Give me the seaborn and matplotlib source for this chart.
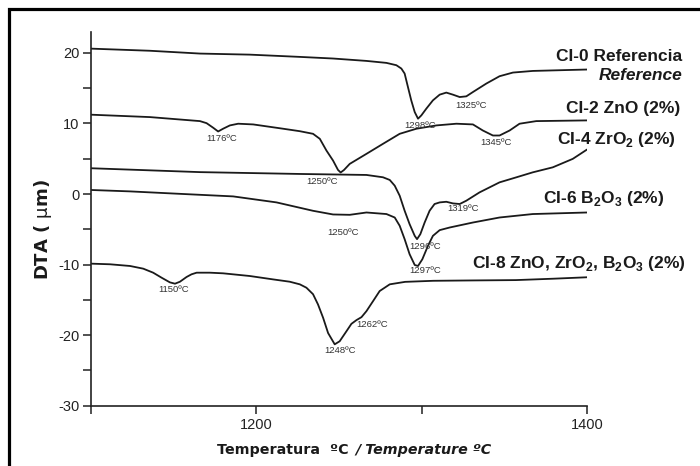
import numpy as np
import pandas as pd
import seaborn as sns
import matplotlib
matplotlib.use("Agg")
import matplotlib.pyplot as plt
from matplotlib.patches import Rectangle

# ---- data ----
t_ci0 = [1100, 1135.6, 1166, 1196, 1226.3, 1246.4, 1266.6, 1278.7, 1284.7, 1287.7, 1289.7, 1291.7, 1293.7,
         1295.8, 1297.8, 1299.8, 1302.8, 1306.8, 1310.9, 1314.9, 1318.9, 1323, 1327, 1331, 1339.1, 1347.1,
         1355.2, 1367.2, 1383.4, 1400]
v_ci0 = [20.6, 20.3, 19.9, 19.75, 19.43, 19.2, 18.86, 18.58, 18.25, 17.78, 17.07, 15.16, 13.27,
         11.61, 10.67, 11.14, 12.09, 13.27, 14.08, 14.37, 14.08, 13.74, 13.84, 14.45, 15.65, 16.69,
         17.21, 17.44, 17.54, 17.64]

t_ci2 = [1100, 1135.6, 1165.9, 1169.9, 1173.9, 1176.9, 1179.9, 1184, 1189, 1198.1, 1216.2, 1226.3, 1234.3,
         1238.4, 1242.4, 1246.4, 1249.4, 1251, 1253, 1256.5, 1266.6, 1276.6, 1286.7, 1296.8, 1308.9, 1321,
         1331, 1337, 1343.1, 1347.1, 1353.2, 1359.2, 1369.3, 1400]
v_ci2 = [11.24, 10.9, 10.33, 10.04, 9.39, 8.86, 9.25, 9.72, 9.96, 9.86, 9.25, 8.9, 8.53,
         7.82, 6.16, 4.74, 3.41, 3.05, 3.4, 4.27, 5.69, 7.11, 8.53, 9.25, 9.72, 9.96,
         9.86, 9.0, 8.29, 8.29, 9.0, 9.96, 10.33, 10.43]

t_ci4 = [1100, 1166, 1226.3, 1266.6, 1276.6, 1280.7, 1283.7, 1286.7, 1289.7, 1292.7, 1295.8, 1297.2, 1299.2,
         1301.8, 1304.8, 1307.8, 1310.9, 1314.9, 1318.9, 1323, 1327, 1335, 1347.1, 1357.2, 1367.2, 1379.3,
         1391.4, 1400]
v_ci4 = [3.65, 3.1, 2.84, 2.7, 2.37, 1.99, 1.18, -0.24, -2.37, -4.27, -5.93, -6.4, -5.69,
         -4.04, -2.37, -1.42, -1.19, -1.1, -1.33, -1.42, -0.95, 0.23, 1.65, 2.36, 3.07, 3.78,
         4.98, 6.3]

t_ci6 = [1100, 1123.6, 1155.8, 1186, 1212.2, 1234.3, 1246.4, 1256.5, 1266.6, 1278.7, 1283.7, 1286.7, 1289.7,
         1292.7, 1295.8, 1297.8, 1300.4, 1303.8, 1306.8, 1310.9, 1316.9, 1331, 1347.1, 1367.2, 1400]
v_ci6 = [0.57, 0.37, 0.0, -0.34, -1.19, -2.38, -2.9, -2.95, -2.62, -2.84, -3.33, -4.5, -6.4,
         -8.53, -10.06, -10.2, -9.25, -7.35, -5.93, -5.12, -4.75, -4.04, -3.33, -2.84, -2.62]

t_ci8 = [1100, 1111.5, 1123.6, 1131.6, 1137.6, 1142.7, 1147.7, 1150.8, 1153.8, 1157.8, 1160.8, 1163.9, 1171.9,
         1179.9, 1196, 1210.1, 1220.2, 1226.3, 1230.3, 1234.3, 1237.3, 1240.4, 1243.4, 1247.4, 1250.4, 1254.5,
         1257.5, 1260.5, 1263.6, 1266.6, 1270.6, 1274.6, 1280.7, 1290, 1307, 1330, 1357, 1380, 1400]
v_ci8 = [-9.87, -9.96, -10.2, -10.58, -11.15, -11.86, -12.52, -12.71, -12.43, -11.76, -11.38, -11.15, -11.15,
         -11.24, -11.62, -12.1, -12.43, -12.8, -13.28, -14.2, -15.65, -17.55, -19.7, -21.3, -20.87, -19.45,
         -18.4, -17.88, -17.45, -16.6, -15.18, -13.75, -12.8, -12.45, -12.3, -12.25, -12.2, -12.0, -11.8]

series_names = ["CI-0", "CI-2", "CI-4", "CI-6", "CI-8"]

peak_labels = ["1176ºC", "1250ºC", "1298ºC", "1325ºC", "1345ºC", "1319ºC",
               "1250ºC", "1296ºC", "1297ºC", "1150ºC", "1248ºC", "1262ºC"]
peak_x = [1179, 1239.5, 1299, 1330, 1345, 1325, 1252.5, 1302, 1302, 1149.7, 1250.4, 1270]
peak_y = [7.9, 1.8, 9.7, 12.6, 7.3, -2.1, -5.5, -7.4, -10.9, -13.5, -22.2, -18.5]

series_labels = ["CI-0 Referencia", "CI-2 ZnO (2%)", r"CI-4 ZrO$_\mathbf{2}$ (2%)",
                 r"CI-6 B$_\mathbf{2}$O$_\mathbf{3}$ (2%)",
                 r"CI-8 ZnO, ZrO$_\mathbf{2}$, B$_\mathbf{2}$O$_\mathbf{3}$ (2%)"]
series_label_y = [19.4, 12.1, 7.6, -0.8, -10.0]
series_label_x_px = [682, 680, 676, 664, 686]

ytick_vals = [-30, -25, -20, -15, -10, -5, 0, 5, 10, 15, 20]
ytick_labels = ["-30", "", "-20", "", "-10", "", "0", "", "10", "", "20"]
xtick_vals = [1100, 1200, 1300, 1400]
xtick_labels = ["", "1200", "", "1400"]

# ---- build long-form table ----
frames = []
for name, t, v in zip(series_names, [t_ci0, t_ci2, t_ci4, t_ci6, t_ci8],
                      [v_ci0, v_ci2, v_ci4, v_ci6, v_ci8]):
    frames.append(pd.DataFrame({"T": t, "DTA": v, "serie": name}))
df = pd.concat(frames, ignore_index=True)

sns.set_style("ticks")
plt.rcParams["font.family"] = ["Liberation Sans", "DejaVu Sans"]
plt.rcParams["mathtext.fontset"] = "custom"
plt.rcParams["mathtext.rm"] = "Liberation Sans"
plt.rcParams["mathtext.bf"] = "Liberation Sans:bold"
plt.rcParams["mathtext.it"] = "DejaVu Sans"

W, H = 700, 466
fig = plt.figure(figsize=(7.0, 4.66), dpi=100)
ax = fig.add_axes([91 / W, 1 - 405.7 / H, (587 - 91) / W, (405.7 - 31.7) / H])

sns.lineplot(data=df, x="T", y="DTA", units="serie", estimator=None, color="#1a1a1a",
             linewidth=1.3, sort=False, ax=ax, legend=False)
for ln in ax.lines:
    ln.set_solid_joinstyle("round")
    ln.set_solid_capstyle("round")

ax.set_xlim(1100, 1400)
ax.set_ylim(-30, 23)
ax.set_xticks(xtick_vals)
ax.set_xticklabels(xtick_labels, fontsize=10.5, color="#222222")
ax.set_yticks(ytick_vals)
ax.set_yticklabels(ytick_labels, fontsize=10.5, color="#222222")
ax.tick_params(axis="both", direction="out", length=5.5, width=1.1, color="#222222", pad=3)
for s in ["top", "right"]:
    ax.spines[s].set_visible(False)
for s in ["left", "bottom"]:
    ax.spines[s].set_linewidth(1.2)
    ax.spines[s].set_color("#222222")
ax.set_xlabel("")
ax.set_ylabel("")

for lab, x, y in zip(peak_labels, peak_x, peak_y):
    ax.text(x, y, lab, fontsize=6.8, color="#333333", ha="center", va="center")

for lab, y, xp in zip(series_labels, series_label_y, series_label_x_px):
    fig.text(xp / W, 1 - (193.3 - y * 7.03) / H, lab, fontsize=12.5, fontweight="bold",
             ha="right", va="center", color="#1a1a1a")
fig.text(682 / W, 1 - 75 / H, "Reference", fontsize=12.5, fontweight="bold", style="italic",
         ha="right", va="center", color="#1a1a1a")

# axis titles (Verdana-like face)
fig.text(43 / W, 1 - 230 / H, r"DTA ( $\mu$m)", fontsize=13, fontweight="bold", rotation=90,
         family="DejaVu Sans", ha="center", va="center", color="#1a1a1a")
fig.text(349 / W, 1 - 450 / H, "Temperatura  ºC", fontsize=10.3, fontweight="bold",
         family="DejaVu Sans", ha="right", va="center", color="#1a1a1a")
fig.text(355 / W, 1 - 450 / H, "/ Temperature ºC", fontsize=10.3, fontweight="bold", style="italic",
         family="DejaVu Sans", ha="left", va="center", color="#1a1a1a")

# frame around figure (open at right/bottom beyond image)
fig.patches.append(Rectangle((9 / W, -0.2), 1.2, 1 - 9 / H + 0.2, transform=fig.transFigure,
                             fill=False, edgecolor="black", linewidth=2.3))

fig.savefig("out.png", dpi=100)
